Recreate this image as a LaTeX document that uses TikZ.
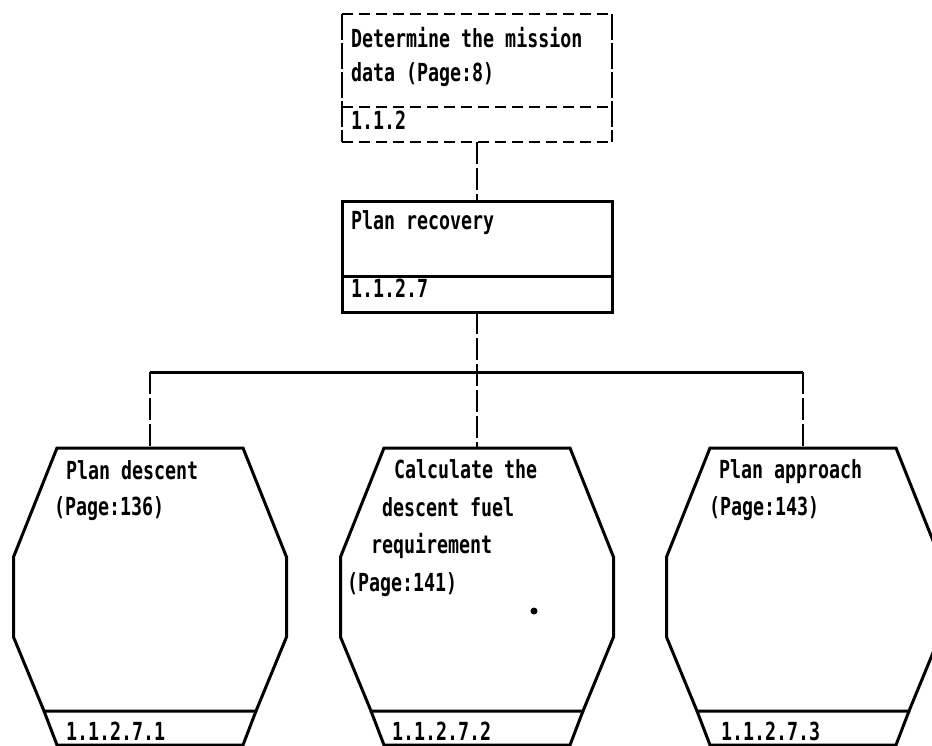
\documentclass[tikz,border=0pt]{standalone}
\usepackage{fontspec}
\newfontfamily\dm{DejaVu Sans Mono Bold}
\newcommand{\dmt}[1]{\scalebox{1}[1.36]{\dm\fontsize{18.3}{18.3}\selectfont #1}}
\tikzset{
  solidline/.style={line width=3pt, line join=miter},
  dashline/.style={line width=2.8pt, dash pattern=on 11pt off 6pt},
  sideline/.style={line width=2.2pt, dash pattern=on 26pt off 3pt},
  conn/.style={line width=2.4pt, dash pattern=on 22pt off 4pt},
  boxnode/.style={rectangle, minimum width=270pt, inner sep=0pt, outer sep=0pt},
  lab/.style={anchor=base west, inner sep=0pt, outer sep=0pt},
  childshape/.pic={
    \draw[solidline] (-93,448) -- (93,448) -- (136.5,557) -- (136.5,637) -- (106,711)
      -- (-106,711) -- (-136.5,637) -- (-136.5,557) -- cycle;
    \draw[solidline] (-106,711) -- (-93,745) -- (93,745) -- (106,711);
  }
}
\begin{document}
\begin{tikzpicture}[x=1pt,y=-1pt]
\useasboundingbox (0,0) rectangle (932,746);
\clip (0,0) rectangle (932,746);
% top box
\node[boxnode, minimum height=128pt] (top) at (477,78) {};
\draw[dashline] (top.north west) -- (top.north east);
\draw[dashline] (top.south west) -- (top.south east);
\draw[dashline] (top.west |- 0,107) -- (top.east |- 0,107);
\draw[sideline] (top.north west) -- (top.south west);
\draw[sideline] (top.north east) -- (top.south east);
\node[lab] (t1) at (351,48) {\dmt{Determine the mission}};
\node[lab] (t2) at (351,82) {\dmt{data (Page:8)}};
\node[lab] (t3) at (351,130) {\dmt{1.1.2}};
% plan recovery
\node[boxnode, minimum height=110pt, draw, solidline] (rec) at (477,257) {};
\draw[solidline] (rec.west |- 0,277) -- (rec.east |- 0,277);
\node[lab] (r1) at (351,230) {\dmt{Plan recovery}};
\node[lab] (r2) at (351,298) {\dmt{1.1.2.7}};
% children
\pic at (150,0) {childshape};
\pic at (477,0) {childshape};
\pic at (803,0) {childshape};
\coordinate (c1top) at (150,448);
\coordinate (c2top) at (477,448);
\coordinate (c3top) at (803,448);
\coordinate (bar) at (477,372);
% connectors
\draw[conn] (top.south) -- (rec.north);
\draw[conn] (rec.south) -- (c2top);
\draw[solidline] (c1top |- bar) -- (c3top |- bar);
\draw[conn] (c1top |- bar) -- (c1top);
\draw[conn] (c3top |- bar) -- (c3top);
% child texts
\node[lab] (a1) at (66,479) {\dmt{Plan descent}};
\node[lab] (a2) at (54,515) {\dmt{(Page:136)}};
\node[lab] (a3) at (66,740) {\dmt{1.1.2.7.1}};
\node[lab] (b1) at (394,478) {\dmt{Calculate the}};
\node[lab] (b2) at (382,516) {\dmt{descent fuel}};
\node[lab] (b3) at (371,553) {\dmt{requirement}};
\node[lab] (b4) at (347,591) {\dmt{(Page:141)}};
\node[lab] (b5) at (392,740) {\dmt{1.1.2.7.2}};
\node[lab] (d1) at (719,478) {\dmt{Plan approach}};
\node[lab] (d2) at (709,515) {\dmt{(Page:143)}};
\node[lab] (d3) at (721,740) {\dmt{1.1.2.7.3}};
% stray dot
\fill (534,611) circle (3.5pt);
\end{tikzpicture}
\end{document}
